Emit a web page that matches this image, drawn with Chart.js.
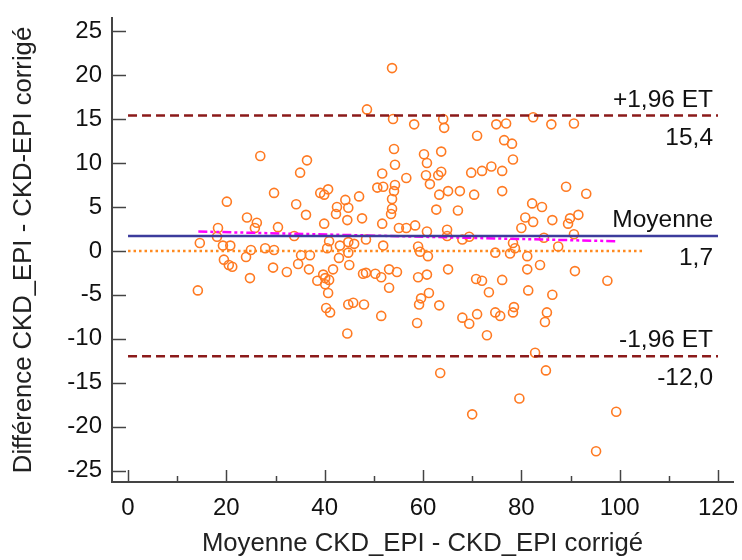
<!DOCTYPE html>
<html>
<head>
<meta charset="utf-8">
<script src="https://cdn.jsdelivr.net/npm/chart.js@4.4.1/dist/chart.umd.min.js"></script>
<style>
body { margin: 0; background: #fff; }
</style>
</head>
<body>
<canvas id="baChart" width="742" height="560"></canvas>
<script>
// moyenne des deux méthodes (x) et différence (y)
var meanX = [14.2,14.6,18.3,18.1,19.3,20.8,19.5,20.5,21.2,20.1,
    24.2,25.0,24.0,24.8,26.2,25.8,26.9,27.9,29.7,29.5,
    29.7,30.5,32.3,33.8,34.2,34.6,35.0,35.2,36.4,36.2,
    37.0,36.8,38.5,39.1,39.9,40.7,39.9,39.7,40.1,40.7,
    40.3,41.1,40.9,40.5,40.1,40.9,41.7,42.3,42.5,42.9,
    43.1,44.2,44.8,44.6,44.8,44.8,45.0,44.6,44.8,45.8,
    46.0,47.0,47.6,48.0,47.8,48.4,48.4,48.6,50.3,50.7,
    51.5,51.5,51.7,51.7,51.9,51.9,53.1,53.1,53.5,53.7,
    53.7,53.7,53.9,54.1,54.3,54.1,54.3,54.7,55.1,56.6,
    56.6,58.2,58.4,59.0,59.0,59.4,58.8,59.2,59.6,60.2,
    60.8,60.6,61.4,60.8,60.8,61.0,61.2,62.7,63.1,63.7,
    63.7,63.3,63.3,63.5,64.1,64.3,64.9,64.9,65.1,65.1,
    67.1,67.5,68.0,68.0,69.4,69.4,69.8,70.4,70.0,70.8,
    71.0,71.0,72.0,72.0,73.0,73.4,73.9,74.9,74.7,74.7,
    76.1,76.1,75.7,76.1,76.9,76.5,78.1,78.3,78.3,78.7,
    77.7,78.3,78.5,80.0,80.8,81.2,81.2,81.4,79.6,82.2,
    82.4,82.4,82.8,83.8,84.2,84.6,85.2,84.8,85.0,86.1,
    86.3,86.3,87.5,89.1,89.5,89.9,90.7,90.7,91.6,90.9,
    93.2,95.2,97.5,99.3];
var diffY = [-4.5,0.9,2.6,1.6,0.6,0.6,-1.0,-1.6,-1.8,5.6,
    3.8,0.1,-0.7,-3.1,3.2,2.6,10.8,0.3,0.1,-1.9,
    6.6,2.7,-2.4,1.7,5.3,-1.5,8.9,-0.5,10.3,4.1,
    -0.5,-2.1,-3.4,6.6,6.4,7.0,3.1,-2.7,-3.8,-4.8,
    -6.5,-7.0,1.1,0.3,-3.1,-3.3,-2.1,4.2,5.0,-0.8,
    0.6,5.8,4.9,3.5,1.0,-0.2,-1.6,-9.4,-6.1,-5.9,
    0.8,6.2,3.7,-6.1,-2.6,-2.5,1.3,16.1,-2.6,7.2,
    -3.0,-7.4,3.1,8.8,7.3,0.6,-2.1,-4.2,4.2,4.8,
    5.9,20.8,15.0,11.6,9.8,6.8,7.5,-2.4,2.6,2.6,
    8.3,14.4,2.9,0.5,-3.0,-0.1,-8.2,-6.1,-5.4,11.0,
    10.0,8.6,7.6,2.2,-2.7,-0.6,-4.8,4.7,8.6,9.0,
    11.3,6.4,-6.2,-13.9,15.0,14.0,2.4,1.7,-2.1,6.8,
    4.6,6.8,1.3,-7.6,1.6,-8.3,8.9,6.4,-18.6,-3.2,
    13.1,-7.2,9.1,-3.4,-9.6,-4.7,9.6,14.4,-0.2,-7.0,
    6.8,9.1,-7.4,-3.3,14.5,12.6,12.2,10.4,0.9,0.3,
    -0.3,-7.0,-6.4,2.6,3.8,-0.6,-2.1,-4.5,-16.8,5.4,
    3.3,15.2,-11.6,-1.6,5.0,1.5,-7.0,-8.1,-13.6,14.4,
    3.5,-5.0,0.5,7.3,3.1,3.7,14.5,1.9,4.1,-2.3,
    6.5,-22.8,-3.4,-18.3];

var upperLimit = 15.4;
var meanDiff = 1.7;
var lowerLimit = -12.0;
var upperText = ['+1,96 ET', '15,4'];
var meanText = ['Moyenne', '1,7'];
var lowerText = ['-1,96 ET', '-12,0'];
var lineX = [0, 120];
var zeroX = [0, 104.7];
var regX = [14.3, 99.1];
var regY = [2.2, 1.1];
var xTicks = [0, 10, 20, 30, 40, 50, 60, 70, 80, 90, 100, 110, 120];
var yTicks = [-25, -20, -15, -10, -5, 0, 5, 10, 15, 20, 25];

var FONT = "'Liberation Sans', Arial, sans-serif";

function hline(xs, y) {
    return xs.map(function (x) { return { x: x, y: y }; });
}

// petits traits de graduation tournés vers l'intérieur
var innerTicks = {
    id: 'innerTicks',
    afterDraw: function (chart) {
        var c = chart.ctx, xs = chart.scales.x, ys = chart.scales.y, a = chart.chartArea;
        c.save();
        c.strokeStyle = '#444';
        c.lineWidth = 1.5;
        yTicks.forEach(function (v) {
            var py = Math.round(ys.getPixelForValue(v)) + 0.5;
            c.beginPath(); c.moveTo(a.left, py); c.lineTo(a.left + 14, py); c.stroke();
        });
        xTicks.forEach(function (v) {
            var px = Math.round(xs.getPixelForValue(v)) + 0.5;
            var len = (v % 20 === 0) ? 12 : 6;
            c.beginPath(); c.moveTo(px, a.bottom); c.lineTo(px, a.bottom - len); c.stroke();
        });
        c.restore();
    }
};

// textes à droite des lignes de limites
var limitLabels = {
    id: 'limitLabels',
    afterDatasetsDraw: function (chart) {
        var c = chart.ctx, xs = chart.scales.x, ys = chart.scales.y;
        var right = xs.getPixelForValue(lineX[1]) - 5;
        c.save();
        c.fillStyle = '#111';
        c.font = '24.5px ' + FONT;
        c.textAlign = 'right';
        c.textBaseline = 'alphabetic';
        [[upperLimit, upperText], [meanDiff, meanText], [lowerLimit, lowerText]].forEach(function (l) {
            var py = ys.getPixelForValue(l[0]);
            c.fillText(l[1][0], right, py - 9);
            c.fillText(l[1][1], right, py + 29);
        });
        c.restore();
    }
};

var ctx = document.getElementById('baChart').getContext('2d');
var myChart = new Chart(ctx, {
    type: 'scatter',
    data: {
        datasets: [{
            data: hline(lineX, upperLimit),
            showLine: true,
            borderColor: '#8b1a1a',
            borderWidth: 2.5,
            borderDash: [9, 5],
            pointRadius: 0
        }, {
            data: hline(lineX, lowerLimit),
            showLine: true,
            borderColor: '#8b1a1a',
            borderWidth: 2.5,
            borderDash: [9, 5],
            pointRadius: 0
        }, {
            data: hline(zeroX, 0),
            showLine: true,
            borderColor: '#ff8a1f',
            borderWidth: 2.5,
            borderDash: [2.5, 3],
            pointRadius: 0
        }, {
            data: hline(lineX, meanDiff),
            showLine: true,
            borderColor: '#3c3c9c',
            borderWidth: 2.5,
            pointRadius: 0
        }, {
            data: regX.map(function (x, i) { return { x: x, y: regY[i] }; }),
            showLine: true,
            borderColor: '#ff00ff',
            borderWidth: 2.5,
            borderDash: [9, 3, 3, 3, 3, 3],
            pointRadius: 0
        }, {
            data: meanX.map(function (x, i) { return { x: x, y: diffY[i] }; }),
            pointStyle: 'circle',
            pointRadius: 4.5,
            borderWidth: 1.6,
            borderColor: '#ff7a22',
            backgroundColor: 'rgba(0,0,0,0)'
        }]
    },
    options: {
        responsive: false,
        animation: false,
        devicePixelRatio: 1,
        layout: { padding: { top: 18, right: 9, left: 0, bottom: 0 } },
        plugins: {
            legend: { display: false },
            tooltip: { enabled: false }
        },
        scales: {
            x: {
                type: 'linear',
                min: -3.26,
                max: 123.05,
                afterBuildTicks: function (s) { s.ticks = xTicks.map(function (v) { return { value: v }; }); },
                afterFit: function (s) { s.height = 78; s.paddingLeft = 0; s.paddingRight = 0; },
                grid: { display: false, drawTicks: false },
                border: { display: true, color: '#444', width: 2 },
                ticks: {
                    padding: 12,
                    color: '#111',
                    font: { family: FONT, size: 24 },
                    maxRotation: 0,
                    autoSkip: false,
                    callback: function (v) { return v % 20 === 0 ? String(v) : ''; }
                },
                title: {
                    display: true,
                    text: 'Moyenne CKD_EPI - CKD_EPI corrigé',
                    color: '#222',
                    font: { family: FONT, size: 25.7 },
                    padding: { top: 0, bottom: 1 }
                }
            },
            y: {
                type: 'linear',
                min: -26.3,
                max: 26.5,
                afterBuildTicks: function (s) { s.ticks = yTicks.map(function (v) { return { value: v }; }); },
                afterFit: function (s) { s.width = 112; s.paddingTop = 0; s.paddingBottom = 0; },
                grid: { display: false, drawTicks: false },
                border: { display: true, color: '#444', width: 2 },
                ticks: {
                    padding: 10,
                    color: '#111',
                    font: { family: FONT, size: 24 },
                    autoSkip: false
                },
                title: {
                    display: true,
                    text: 'Différence CKD_EPI - CKD-EPI corrigé',
                    color: '#222',
                    font: { family: FONT, size: 25.7 },
                    padding: { top: 8, bottom: 0 }
                }
            }
        }
    },
    plugins: [innerTicks, limitLabels]
});
</script>
</body>
</html>
